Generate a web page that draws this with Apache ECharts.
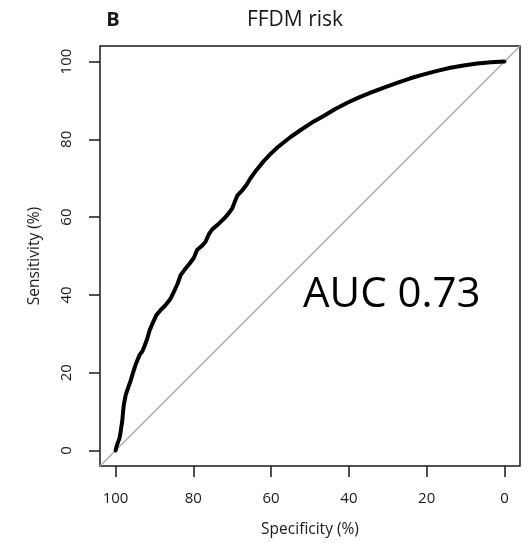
<!DOCTYPE html>
<html>
<head>
<meta charset="utf-8">
<script src="https://cdn.jsdelivr.net/npm/echarts@6/dist/echarts.min.js"></script>
<style>
html,body{margin:0;padding:0;background:#fff;}
#chart{width:530px;height:543px;}
</style>
</head>
<body>
<div id="chart"></div>
<script>
// ROC curve: specificity (%) vs sensitivity (%)
const specificity = [100, 99.6, 99.0, 98.7, 98.3, 97.9, 97.4, 96.8, 96.1, 95.5, 94.9, 93.8, 93.1, 92.5, 91.9, 91.2, 90.6, 89.5, 88.5, 87.3, 86.0, 85.0, 84.0, 83.3, 82.0, 81.0, 79.9, 79.0, 77.8, 76.9, 76.0, 75.1, 73.8, 72.2, 71.3, 70.0, 69.4, 68.7, 67.5, 66.4, 65.3, 63.7, 61.9, 60.2, 58.4, 56.8, 55.0, 52.4, 49.5, 46.5, 43.5, 40.4, 37.4, 34.4, 31.0, 27.6, 24.2, 20.7, 17.3, 13.9, 10.5, 7.0, 3.5, 0];
const sensitivity = [0, 1.5, 3.1, 4.8, 7.4, 11.6, 14.2, 16.0, 18.0, 20.0, 21.9, 24.6, 25.5, 27.0, 28.6, 31.0, 32.4, 34.8, 36.0, 37.2, 38.8, 40.8, 43.0, 45.0, 46.8, 48.0, 49.5, 51.6, 52.6, 53.6, 55.6, 56.9, 58.0, 59.5, 60.5, 62.2, 63.8, 65.5, 66.8, 68.2, 70.0, 72.2, 74.4, 76.2, 77.9, 79.2, 80.6, 82.4, 84.3, 86.0, 87.8, 89.4, 90.8, 92.0, 93.3, 94.5, 95.7, 96.7, 97.6, 98.4, 99.0, 99.5, 99.8, 100];
// chance diagonal, spanning the full plot box
const diagonalSpec = [104, -4];
const diagonalSens = [-4, 104];
const xTickValues = [100, 80, 60, 40, 20, 0];
const yTickValues = [0, 20, 40, 60, 80, 100];
const panelLabel = 'B';
const titleText = 'FFDM risk';
const aucText = 'AUC 0.73';
const xName = 'Specificity (%)';
const yName = 'Sensitivity (%)';

const FONT = '"Open Sans", "DejaVu Sans", sans-serif';
const INK = '#1a1a1a';

const chart = echarts.init(document.getElementById('chart'), null, {renderer: 'canvas'});
chart.setOption({
  animation: false,
  backgroundColor: '#fff',
  grid: {
    left: 100, right: 10, top: 46, bottom: 76,
    show: true, borderColor: INK, borderWidth: 1.5, backgroundColor: 'transparent'
  },
  xAxis: {
    type: 'value', min: -4, max: 104, inverse: true, position: 'bottom',
    name: xName, nameLocation: 'middle', nameGap: 56,
    nameTextStyle: {fontFamily: FONT, fontSize: 15.5, color: INK},
    axisLine: {show: false, onZero: false},
    axisTick: {show: true, inside: false, length: 11, customValues: xTickValues, lineStyle: {color: INK, width: 1.5}},
    axisLabel: {customValues: xTickValues, margin: 25, fontFamily: FONT, fontSize: 15, color: INK},
    splitLine: {show: false}
  },
  yAxis: {
    type: 'value', min: -4, max: 104, position: 'left',
    name: yName, nameLocation: 'middle', nameGap: 57,
    nameTextStyle: {fontFamily: FONT, fontSize: 15.5, color: INK},
    axisLine: {show: false, onZero: false},
    axisTick: {show: true, inside: false, length: 11, customValues: yTickValues, lineStyle: {color: INK, width: 1.5}},
    axisLabel: {customValues: yTickValues, rotate: 90, margin: 26, fontFamily: FONT, fontSize: 15, color: INK},
    splitLine: {show: false}
  },
  graphic: [
    {type: 'text', x: 113, y: 20, style: {text: panelLabel, font: 'bold 20px ' + FONT, fill: INK, align: 'center', verticalAlign: 'middle', textAlign: 'center', textVerticalAlign: 'middle'}},
    {type: 'text', x: 295, y: 20, style: {text: titleText, font: '21px ' + FONT, fill: INK, align: 'center', verticalAlign: 'middle', textAlign: 'center', textVerticalAlign: 'middle'}},
    {type: 'text', x: 303, y: 295, z: 10, style: {text: aucText, font: '42px ' + FONT, fill: '#000', align: 'left', verticalAlign: 'middle', textAlign: 'left', textVerticalAlign: 'middle'}}
  ],
  series: [
    {
      type: 'line', showSymbol: false, silent: true, z: 1,
      data: diagonalSpec.map((s, i) => [s, diagonalSens[i]]),
      lineStyle: {color: '#aaaaaa', width: 1.2}
    },
    {
      type: 'line', showSymbol: false, silent: true, z: 3,
      data: specificity.map((s, i) => [s, sensitivity[i]]),
      lineStyle: {color: '#000', width: 4, join: 'round', cap: 'round'}
    }
  ]
});
</script>
</body>
</html>
